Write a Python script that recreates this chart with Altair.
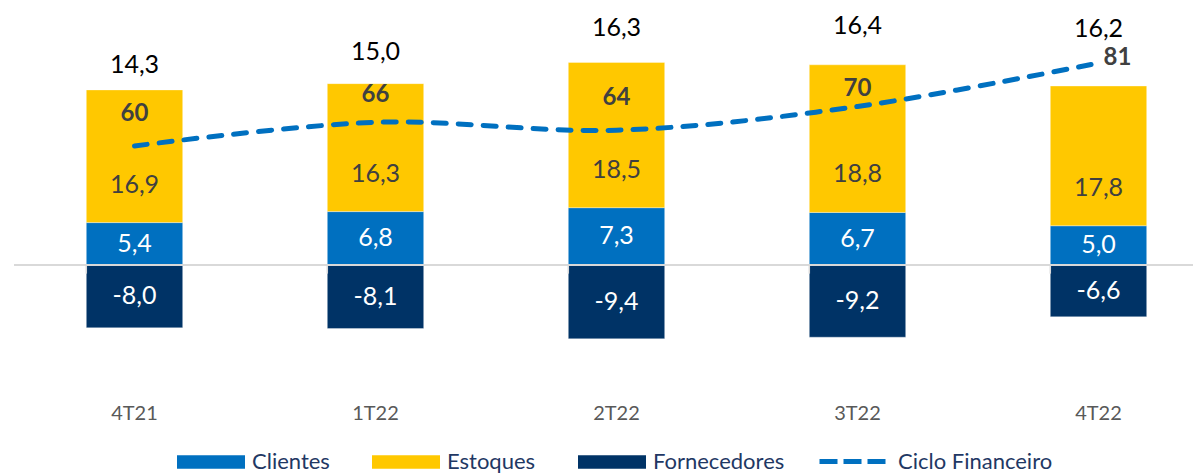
import altair as alt
import pandas as pd

# ---- data ----
categorias = ["4T21", "1T22", "2T22", "3T22", "4T22"]
clientes = [5.4, 6.8, 7.3, 6.7, 5.0]
estoques = [16.9, 16.3, 18.5, 18.8, 17.8]
fornecedores = [-8.0, -8.1, -9.4, -9.2, -6.6]
ciclo_financeiro = [60, 66, 64, 70, 81]
totais = [14.3, 15.0, 16.3, 16.4, 16.2]

series = ["Clientes", "Estoques", "Fornecedores"]
cores = ["#0070C0", "#FFC800", "#003366"]
cor_linha = "#0070C0"


def br(v, d=1):
    return f"{v:.{d}f}".replace(".", ",")


rows = []
for i, q in enumerate(categorias):
    c, e, f = clientes[i], estoques[i], fornecedores[i]
    rows.append(dict(q=q, serie="Clientes", v0=0, v1=c, mid=c / 2, lab=br(c)))
    rows.append(dict(q=q, serie="Estoques", v0=c, v1=c + e, mid=c, lab=br(e)))
    rows.append(dict(q=q, serie="Fornecedores", v0=f, v1=0, mid=f / 2, lab=br(f)))
df_bars = pd.DataFrame(rows)

df_line = pd.DataFrame({
    "q": categorias,
    "ciclo": ciclo_financeiro,
    "lab": [str(v) for v in ciclo_financeiro],
    "serie": ["Ciclo Financeiro"] * len(categorias),
})
df_tot = pd.DataFrame({"q": categorias, "total": totais, "lab": [br(v) for v in totais]})
df_ticks = pd.DataFrame({"q": categorias})

# ---- layout ----
W, H = 1179, 385
MAIN = [-16.56, 32.48]
LINE = [-3.04, 94.43]
TOT = [-3.56, 17.25]
FONT = "Lato"

x_axis = alt.X(
    "q:N", sort=categorias,
    scale=alt.Scale(range=[0, 1205], paddingInner=0.6, paddingOuter=0.3),
    axis=alt.Axis(title=None, labelAngle=0, domain=False, ticks=False,
                  labelPadding=8, labelFontSize=20, labelColor="#595959",
                  labelFont=FONT),
)
x_plain = alt.X("q:N", sort=categorias)

y_main = alt.Y("v0:Q", scale=alt.Scale(domain=MAIN), axis=None)

bars = alt.Chart(df_bars).mark_bar(stroke="white", strokeOpacity=0.35, strokeWidth=1).encode(
    x=x_axis,
    y=y_main,
    y2="v1:Q",
    fill=alt.Fill(
        "serie:N",
        scale=alt.Scale(domain=series, range=cores),
        legend=alt.Legend(
            title=None, orient="none", direction="horizontal",
            legendX=163, legendY=418, padding=0,
            symbolType="M-1,-0.2H1V0.2H-1Z", symbolSize=4624,
            symbolStrokeWidth=0, symbolOpacity=1,
            labelFont=FONT, labelFontSize=22, labelColor="#1F3864",
            labelOffset=7, columnPadding=42,
        ),
    ),
)

zero_line = alt.Chart(df_ticks).mark_rule(color="#D9D9D9", strokeWidth=1.5).encode(
    x=alt.value(0), x2=alt.value(W),
    y=alt.Y(datum=0, scale=alt.Scale(domain=MAIN), axis=None),
)

ticks = alt.Chart(df_ticks).mark_rule(color="#D9D9D9", strokeWidth=1.5).encode(
    x=alt.X("q:N", sort=categorias, bandPosition=0),
    y=alt.Y(datum=0, scale=alt.Scale(domain=MAIN), axis=None),
    y2=alt.Y2(datum=-1.1),
)

lab_white = alt.Chart(df_bars).transform_filter(
    alt.datum.serie != "Estoques"
).mark_text(font=FONT, fontSize=25, color="white", baseline="middle").encode(
    x=x_plain,
    y=alt.Y("mid:Q", scale=alt.Scale(domain=MAIN), axis=None),
    text="lab:N",
)

lab_est = alt.Chart(df_bars).transform_filter(
    alt.datum.serie == "Estoques"
).mark_text(font=FONT, fontSize=25, color="#404040", baseline="middle", dy=-38).encode(
    x=x_plain,
    y=alt.Y("mid:Q", scale=alt.Scale(domain=MAIN), axis=None),
    text="lab:N",
)

line = alt.Chart(df_line).mark_line(
    strokeWidth=5, strokeDash=[13, 12], strokeCap="round", interpolate="catmull-rom"
).encode(
    x=x_plain,
    y=alt.Y("ciclo:Q", scale=alt.Scale(domain=LINE), axis=None),
    stroke=alt.Stroke(
        "serie:N",
        scale=alt.Scale(domain=["Ciclo Financeiro"], range=[cor_linha]),
        legend=alt.Legend(
            title=None, orient="none", direction="horizontal",
            legendX=803, legendY=415, padding=0,
            symbolType="stroke", symbolSize=4624, symbolStrokeWidth=5,
            symbolDash=[18, 6],
            labelFont=FONT, labelFontSize=22, labelColor="#1F3864",
            labelOffset=8,
        ),
    ),
)


def line_labels(filt, dx, dy):
    return alt.Chart(df_line).transform_filter(filt).mark_text(
        font=FONT, fontSize=24, fontWeight="bold", color="#404040",
        baseline="middle", dx=dx, dy=dy,
    ).encode(
        x=x_plain,
        y=alt.Y("ciclo:Q", scale=alt.Scale(domain=LINE), axis=None),
        text="lab:N",
    )


ll1 = line_labels(alt.FieldOneOfPredicate(field="q", oneOf=["4T21", "2T22"]), 0, -32)
ll0 = line_labels(alt.FieldEqualPredicate(field="q", equal="1T22"), 0, -27)
ll2 = line_labels(alt.FieldEqualPredicate(field="q", equal="3T22"), 0, -17)
ll3 = line_labels(alt.FieldEqualPredicate(field="q", equal="4T22"), 19, -5)

tot = alt.Chart(df_tot).mark_text(
    font=FONT, fontSize=25, color="black", baseline="middle"
).encode(
    x=x_plain,
    y=alt.Y("total:Q", scale=alt.Scale(domain=TOT), axis=None),
    text="lab:N",
)

chart = alt.layer(
    bars, zero_line, ticks, lab_white, lab_est, line, ll1, ll0, ll2, ll3, tot
).resolve_scale(
    y="independent"
).properties(
    width=W, height=H,
    autosize=alt.AutoSizeParams(type="none"),
    padding={"left": 6, "top": 2, "right": 0, "bottom": 78},
).configure_view(stroke=None)

chart.save("out.html", embed_options={"renderer": "svg", "actions": False})
